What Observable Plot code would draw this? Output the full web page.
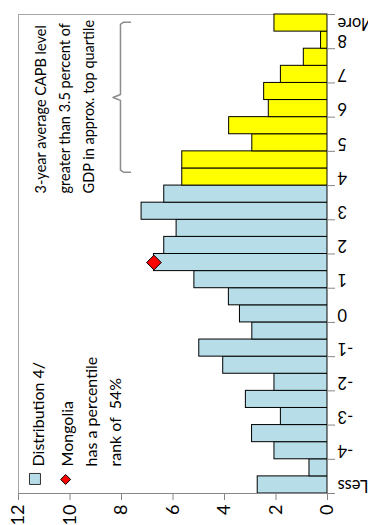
<!DOCTYPE html>
<html>
<head>
<meta charset="utf-8">
<script src="https://cdn.jsdelivr.net/npm/d3@7"></script>
<script src="https://cdn.jsdelivr.net/npm/@observablehq/plot@0.6"></script>
<style>
  html, body { margin: 0; padding: 0; background: #fff; }
  #chart svg { display: block; }
</style>
</head>
<body>
<div id="chart"></div>
<script>
// Histogram bins (bottom to top in the picture)
const bins = ["Less","-4.5","-4","-3.5","-3","-2.5","-2","-1.5","-1","-0.5","0","0.5","1","1.5","2","2.5","3","3.5","4","4.5","5","5.5","6","6.5","7","7.5","8","More"];
// Bar heights
const counts = [2.71,0.70,2.06,2.93,1.81,3.17,2.06,4.05,4.98,2.92,3.40,3.83,5.17,6.74,6.34,5.86,7.22,6.34,5.64,5.64,2.92,3.82,2.28,2.46,1.81,0.92,0.25,2.06];
// Bins from this one upward are highlighted (top quartile)
const topQuartileFrom = "4";
// Bins whose label is shown on the category axis
const shownBinLabels = ["Less","-4","-3","-2","-1","0","1","2","3","4","5","6","7","8","More"];
// Value axis ticks
const valueTicks = [0,2,4,6,8,10,12];
// Mongolia marker
const mongoliaBin = "1.5";
const mongoliaValue = 6.74;
// Texts
const annotationLines = ["3-year average CAPB level","greater than 3.5 percent of","GDP in approx. top quartile"];
const legendDistribution = "Distribution 4/";
const legendMongoliaLines = ["Mongolia","has a percentile","rank of  54%"];

const blue = "#b7dde8", yellow = "#ffff00", axisGrey = "#868686";
const topIndex = bins.indexOf(topQuartileFrom);
const data = bins.map((b, i) => ({bin: b, i, value: counts[i], top: i >= topIndex}));
const labelPos = shownBinLabels.map(l => bins.indexOf(l) + 0.5);
const labelOf = new Map(shownBinLabels.map(l => [bins.indexOf(l) + 0.5, l]));
const mongolia = [{x: mongoliaValue, y: bins.indexOf(mongoliaBin) + 0.5}];
const font = "Lato, 'Open Sans', sans-serif";

const chart = Plot.plot({
  width: 368,
  height: 525,
  marginLeft: 18,
  marginRight: 41,
  marginTop: 14,
  marginBottom: 32,
  style: {fontFamily: font, fontSize: "15px", color: "#000", background: "#fff"},
  x: {domain: [0, 12], reverse: true},
  y: {domain: [0, bins.length]},
  marks: [
    Plot.frame({stroke: "#a6a6a6"}),
    Plot.rect(data, {
      x1: 0, x2: "value", y1: "i", y2: d => d.i + 1,
      fill: d => d.top ? yellow : blue, stroke: "#000", strokeWidth: 1
    }),
    Plot.ruleX([0], {stroke: axisGrey}),
    Plot.ruleY([0], {stroke: axisGrey}),
    Plot.axisX({
      ticks: valueTicks, tickSize: 7, tickPadding: 4, tickRotate: -90,
      textAnchor: "end", lineAnchor: "middle", stroke: axisGrey, fontSize: 18, label: null
    }),
    Plot.axisY({
      anchor: "right", ticks: d3.range(0, bins.length + 1, 2), tickSize: 7,
      tickFormat: () => "", stroke: axisGrey, label: null
    }),
    Plot.axisY({
      anchor: "right", ticks: labelPos, tickSize: 0, tickPadding: 10, tickRotate: 180,
      textAnchor: "end", lineAnchor: "middle", tickFormat: d => labelOf.get(d), fontSize: 16.5, label: null
    }),
    // curly bracket for the top quartile
    Plot.line([[7.65,27.55],[7.92,27.55],[8.04,27.42],[8.04,23.32],[8.33,23.15],[8.04,22.98],[8.04,18.9],[7.92,18.78],[7.65,18.78]],
      {x: d => d[0], y: d => d[1], stroke: "#8c8c8c", strokeWidth: 1.5}),
    Plot.text([annotationLines.join("\n")], {
      x: 10.29, y: 17.54, rotate: -90, textAnchor: "start", lineAnchor: "middle",
      lineHeight: 1.65, fontSize: 14.5, fill: "#000"
    }),
    // Mongolia diamond
    Plot.dot(mongolia, {x: "x", y: "y", symbol: "diamond2", r: 6.6, fill: "#ff0000", stroke: "#000", strokeWidth: 1}),
    // legend
    Plot.dot([0], {x: 11.36, y: 0.85, symbol: "square2", r: 7, fill: blue, stroke: "#333", strokeWidth: 1}),
    Plot.dot([0], {x: 10.17, y: 0.82, symbol: "diamond2", r: 4.5, fill: "#ff0000", stroke: "#000", strokeWidth: 1}),
    Plot.text([legendDistribution], {x: 11.22, y: 1.58, rotate: -90, textAnchor: "start", lineAnchor: "middle", fontSize: 16}),
    Plot.text([legendMongoliaLines.join("\n")], {
      x: 9.24, y: 1.58, rotate: -90, textAnchor: "start", lineAnchor: "middle", lineHeight: 1.5, fontSize: 16
    })
  ]
});
document.getElementById("chart").appendChild(chart);
</script>
</body>
</html>
